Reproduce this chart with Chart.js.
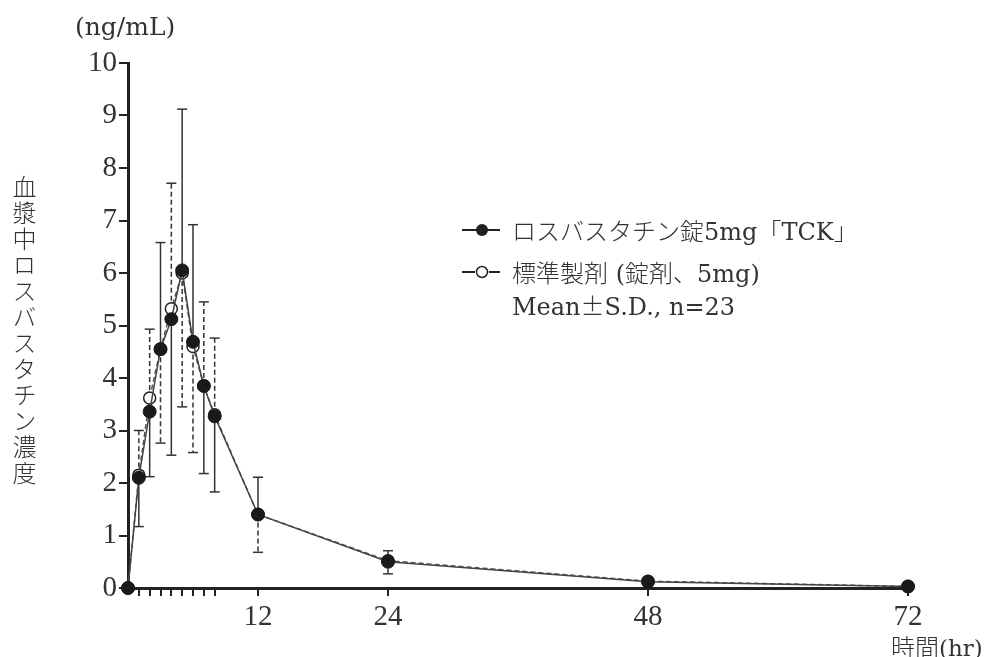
<!DOCTYPE html>
<html>
<head>
<meta charset="utf-8">
<script src="https://cdn.jsdelivr.net/npm/chart.js@4"></script>
<style>
  body { margin: 0; background: #fff; }
  #wrap { position: relative; width: 985px; height: 657px; }
  canvas { position: absolute; left: 0; top: 0; }
  .txt { position: absolute; color: #333; font-family: "DejaVu Serif", "Noto Sans CJK JP", serif; white-space: nowrap; }
  #ylab { left: 11px; top: 175px; font-size: 24px; line-height: 26px; writing-mode: vertical-rl; text-orientation: upright; letter-spacing: 2px; font-family: "Noto Sans CJK JP", sans-serif; font-weight: 300; }
  #unit { left: 75px; top: 12px; font-size: 25px; }
  #xlab { left: 891px; top: 628px; font-size: 23px; }
  #xlab span.jp { font-family: "Noto Sans CJK JP", sans-serif; font-weight: 300; font-size: 24px; }
  .leg { position: absolute; left: 462px; height: 32px; line-height: 32px; font-size: 24px; color: #333; font-family: "DejaVu Serif", "Noto Sans CJK JP", serif; white-space: nowrap; }
  .leg .jp { font-family: "Noto Sans CJK JP", sans-serif; font-weight: 300; font-size: 24px; line-height: 32px; }
  .sym { position: absolute; left: 0; top: 9px; width: 38px; height: 14px; }
</style>
</head>
<body>
<div id="wrap">
  <canvas id="c" width="985" height="657"></canvas>
  <div class="txt" id="unit">(ng/mL)</div>
  <div class="txt" id="ylab">血漿中ロスバスタチン濃度</div>
  <div class="txt" id="xlab"><span class="jp">時間</span>(hr)</div>
  <div class="leg" style="top:214px;">
    <svg class="sym" viewBox="0 0 38 14"><line x1="0" y1="7" x2="38" y2="7" stroke="#222" stroke-width="2"/><circle cx="20" cy="7" r="6" fill="#222"/></svg>
    <span style="margin-left:50px"><span class="jp">ロスバスタチン錠</span>5mg<span class="jp">「</span>TCK<span class="jp">」</span></span>
  </div>
  <div class="leg" style="top:256px;">
    <svg class="sym" viewBox="0 0 38 14"><line x1="0" y1="7" x2="13" y2="7" stroke="#222" stroke-width="2"/><line x1="27" y1="7" x2="38" y2="7" stroke="#222" stroke-width="2"/><circle cx="20" cy="7" r="5.5" fill="#fff" stroke="#222" stroke-width="1.5"/></svg>
    <span style="margin-left:50px"><span class="jp">標準製剤</span> (<span class="jp">錠剤、</span>5mg)</span>
  </div>
  <div class="leg" style="top:289px;">
    <span style="margin-left:50px">Mean<span class="jp">±</span>S.D., n=23</span>
  </div>
</div>
<script>
// data
const times = [0, 1, 2, 3, 4, 5, 6, 7, 8, 12, 24, 48, 72];
const tckMean = [0, 2.10, 3.36, 4.55, 5.12, 6.05, 4.69, 3.85, 3.27, 1.40, 0.50, 0.12, 0.03];
const refMean = [0, 2.15, 3.62, 4.55, 5.32, 6.00, 4.60, 3.85, 3.30, 1.40, 0.52, 0.13, 0.03];
// ends of the S.D. bars (null = not drawn)
const tckUpper = [null, null, null, 6.58, null, 9.12, 6.92, null, null, 2.11, 0.71, null, null];
const tckLower = [null, 1.17, 2.12, null, 2.53, null, null, 2.18, 1.83, null, null, null, null];
const refUpper = [null, 3.00, 4.93, null, 7.71, null, null, 5.45, 4.76, null, null, null, null];
const refLower = [null, null, null, 2.76, null, 3.45, 2.58, null, null, 0.68, 0.27, null, null];

const xTicks = [1, 2, 3, 4, 5, 6, 7, 8, 12, 24, 48, 72];
const xLabels = [12, 24, 48, 72];
const yTicks = [0, 1, 2, 3, 4, 5, 6, 7, 8, 9, 10];

const errorBars = {
  id: 'errorBars',
  beforeDatasetsDraw(chart) {
    const ctx = chart.ctx;
    const xs = chart.scales.x, ys = chart.scales.y;
    function bars(mean, ends, dash) {
      ctx.save();
      ctx.strokeStyle = '#333';
      ctx.lineWidth = 1.5;
      ends.forEach((e, i) => {
        if (e === null) return;
        const x = xs.getPixelForValue(times[i]);
        const y0 = ys.getPixelForValue(mean[i]);
        const y1 = ys.getPixelForValue(e);
        ctx.setLineDash(dash);
        ctx.beginPath();
        ctx.moveTo(x, y0);
        ctx.lineTo(x, y1);
        ctx.stroke();
        ctx.setLineDash([]);
        ctx.beginPath();
        ctx.moveTo(x - 5, y1);
        ctx.lineTo(x + 5, y1);
        ctx.stroke();
      });
      ctx.restore();
    }
    bars(tckMean, tckUpper, []);
    bars(tckMean, tckLower, []);
    bars(refMean, refUpper, [5, 3]);
    bars(refMean, refLower, [5, 3]);
  }
};

new Chart(document.getElementById('c'), {
  type: 'line',
  data: {
    datasets: [
      {
        label: 'ロスバスタチン錠5mg「TCK」',
        data: times.map((t, i) => ({ x: t, y: tckMean[i] })),
        borderColor: '#444',
        borderWidth: 1.5,
        pointRadius: 6.5,
        pointBackgroundColor: '#1a1a1a',
        pointBorderColor: '#1a1a1a',
        pointBorderWidth: 1,
        tension: 0,
        clip: false,
        order: 0
      },
      {
        label: '標準製剤(錠剤、5mg)',
        data: times.map((t, i) => ({ x: t, y: refMean[i] })),
        borderColor: '#555',
        borderWidth: 1.5,
        borderDash: [5, 3],
        pointRadius: 6,
        pointBackgroundColor: '#fff',
        pointBorderColor: '#222',
        pointBorderWidth: 1.5,
        tension: 0,
        clip: false,
        order: 1
      }
    ]
  },
  options: {
    responsive: false,
    devicePixelRatio: 1,
    animation: false,
    layout: { padding: { left: 0, top: 63, right: 77, bottom: 29 } },
    plugins: { legend: { display: false }, tooltip: { enabled: false } },
    scales: {
      x: {
        type: 'linear',
        min: 0,
        max: 72,
        afterBuildTicks: axis => { axis.ticks = xTicks.map(v => ({ value: v })); },
        afterFit: scale => { scale.height = 40; },
        ticks: {
          autoSkip: false,
          maxRotation: 0,
          padding: 4,
          color: '#333',
          font: { family: 'Liberation Serif', size: 29 },
          callback: v => xLabels.includes(v) ? String(v) : ''
        },
        grid: { display: true, drawOnChartArea: false, drawTicks: true, tickLength: 8, color: '#222', lineWidth: 2 },
        border: { display: true, color: '#222', width: 3 }
      },
      y: {
        min: 0,
        max: 10,
        afterBuildTicks: axis => { axis.ticks = yTicks.map(v => ({ value: v })); },
        afterFit: scale => { scale.width = 128; },
        ticks: {
          padding: 2,
          color: '#333',
          font: { family: 'Liberation Serif', size: 29 }
        },
        grid: { display: true, drawOnChartArea: false, drawTicks: true, tickLength: 9, color: '#222', lineWidth: 2 },
        border: { display: true, color: '#222', width: 3 }
      }
    }
  },
  plugins: [errorBars]
});
</script>
</body>
</html>
